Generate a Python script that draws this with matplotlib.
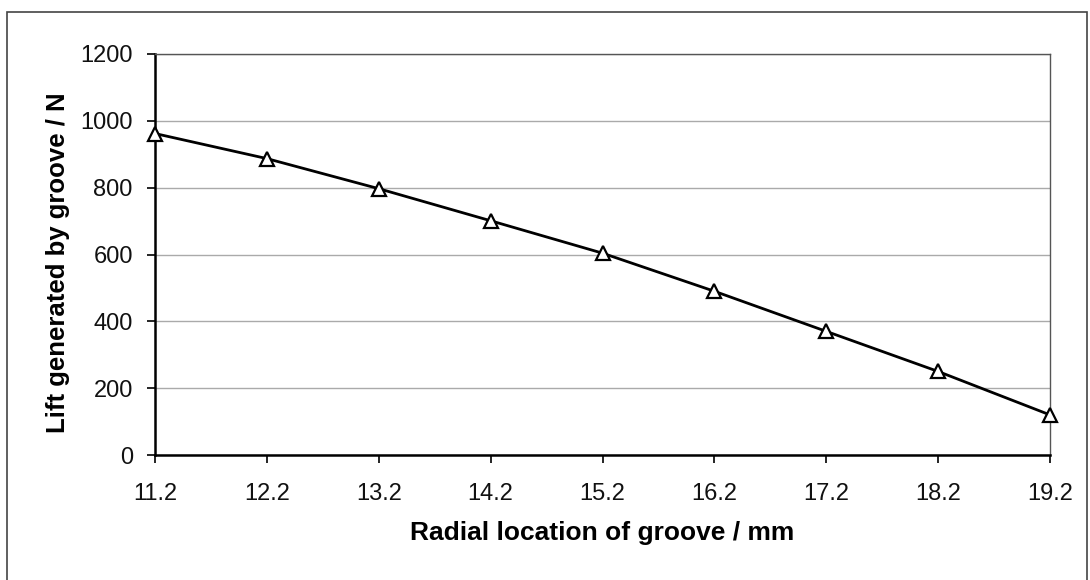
import matplotlib.pyplot as plt
from matplotlib.patches import Rectangle

# data
radial_mm = [11.2, 12.2, 13.2, 14.2, 15.2, 16.2, 17.2, 18.2, 19.2]
lift_N = [962, 887, 797, 701, 604, 490, 370, 250, 120]
y_ticks = [0, 200, 400, 600, 800, 1000, 1200]

plt.rcParams['font.family'] = ['Liberation Sans', 'DejaVu Sans']

fig = plt.figure(figsize=(10.9, 5.8), dpi=100)
ax = fig.add_axes([155/1090, 1-455/580, (1050-155)/1090, (455-54)/580])

ax.plot(radial_mm, lift_N, color='black', lw=2,
        marker='^', markersize=10, markerfacecolor='white',
        markeredgecolor='black', markeredgewidth=1.6, clip_on=False, zorder=3)

ax.set_xlim(11.2, 19.2)
ax.set_ylim(0, 1200)
ax.set_xticks(radial_mm)
ax.set_xticklabels([f'{v:.1f}' for v in radial_mm])
ax.set_yticks(y_ticks)
ax.grid(axis='y', color='#aaaaaa', lw=1)
ax.tick_params(direction='out', length=6, width=1.2, labelsize=17, pad=10,
               labelcolor='#111111')
ax.tick_params(axis='x', pad=14)
for s in ['top', 'right']:
    ax.spines[s].set_color('#555555')
    ax.spines[s].set_linewidth(1)
for s in ['left', 'bottom']:
    ax.spines[s].set_linewidth(1.8)

ax.set_xlabel('Radial location of groove / mm', fontsize=19, fontweight='bold', labelpad=12)
ax.set_ylabel('Lift generated by groove / N', fontsize=18.5, fontweight='bold')
ax.yaxis.set_label_coords(-0.095, 0.48)

# outer chart frame
fig.patches.append(Rectangle((7/1090, -0.05), (1087-7)/1090, 1.05-12/580,
                             transform=fig.transFigure, fill=False,
                             edgecolor='#444444', lw=1.2))

fig.savefig('out.png', dpi=100)
